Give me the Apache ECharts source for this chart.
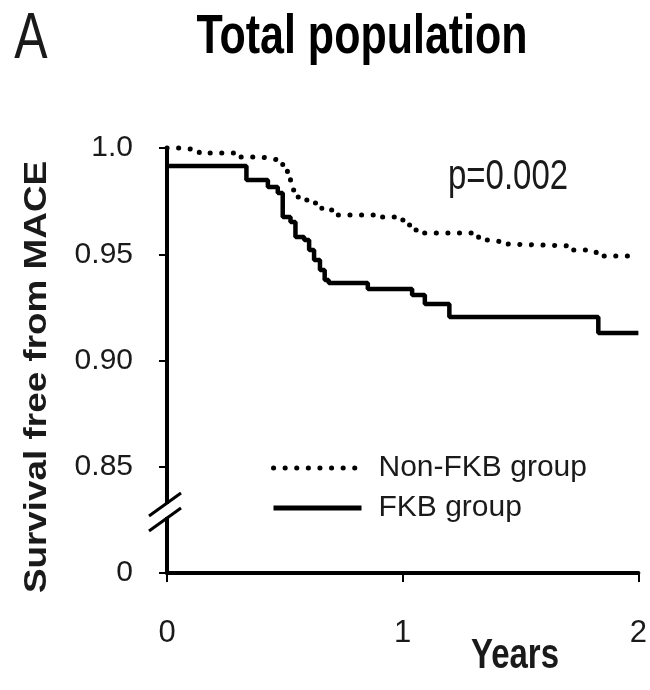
<!DOCTYPE html>
<html>
<head>
<meta charset="utf-8">
<script src="https://cdn.jsdelivr.net/npm/echarts@6/dist/echarts.min.js"></script>
<style>
  html, body { margin: 0; padding: 0; background: #fff; }
  #chart { width: 650px; height: 690px; }
</style>
</head>
<body>
<div id="chart"></div>
<script>
// Kaplan-Meier curves (years, survival)
const nonFkbTime = [0, 0.054, 0.137, 0.304, 0.387, 0.428, 0.470, 0.491, 0.511, 0.524, 0.532, 0.545, 0.574, 0.615, 0.657, 0.699, 0.886, 0.969, 1.010, 1.052, 1.073, 1.322, 1.364, 1.426, 1.447, 1.717, 1.800, 1.821, 2.0];
const nonFkbSurv = [1.0, 0.9991, 0.9976, 0.9958, 0.9953, 0.9944, 0.9929, 0.9911, 0.9882, 0.9849, 0.9802, 0.9769, 0.9755, 0.9741, 0.9708, 0.9685, 0.9675, 0.9661, 0.9638, 0.9614, 0.960, 0.9567, 0.9558, 0.9548, 0.9539, 0.952, 0.9511, 0.9492, 0.9492];

const fkbTime = [0, 0.337, 0.428, 0.470, 0.491, 0.524, 0.545, 0.582, 0.603, 0.624, 0.649, 0.669, 0.686, 0.852, 1.040, 1.094, 1.198, 1.830, 2.0];
const fkbSurv = [0.9915, 0.985, 0.9816, 0.9788, 0.9675, 0.9652, 0.9581, 0.9567, 0.952, 0.9473, 0.9426, 0.9379, 0.9365, 0.9336, 0.9308, 0.9266, 0.9205, 0.9129, 0.9129];

const groupNames = ['Non-FKB group', 'FKB group'];
const xTicks = [0, 1, 2];
const yTickLabels = { '0.80': '0', '0.85': '0.85', '0.90': '0.90', '0.95': '0.95', '1.00': '1.0' };
const breakAt = 0.8294; // where the axis is broken (0.85 -> 0)

const FONT = 'Liberation Sans, Arial, Helvetica, sans-serif';
const INK = '#1a1a1a';

const dotted = { color: '#000', width: 5, type: [0.1, 11.5], cap: 'round' };
const solid = { color: '#000', width: 4.5, type: 'solid' };

function pairs(t, s) {
  return t.map((v, i) => [v, s[i]]);
}

const chart = echarts.init(document.getElementById('chart'));

const option = {
  animation: false,
  backgroundColor: '#fff',
  grid: { left: 167, right: 2, top: 148, bottom: 117, containLabel: false },
  legend: {
    data: [
      { name: groupNames[0], lineStyle: dotted },
      { name: groupNames[1], lineStyle: Object.assign({}, solid, { width: 5 }) }
    ],
    orient: 'vertical',
    left: 266,
    top: 448,
    itemWidth: 88,
    itemHeight: 30,
    itemGap: 10,
    itemStyle: { opacity: 0 },
    textStyle: { fontFamily: FONT, fontSize: 30, color: INK, lineHeight: 30, padding: [0, 0, 0, 12] }
  },
  xAxis: {
    type: 'value',
    min: 0,
    max: 2,
    interval: 1,
    splitLine: { show: false },
    axisLine: { lineStyle: { color: '#000', width: 4 } },
    axisTick: { length: 9, lineStyle: { color: '#000', width: 2 } },
    axisLabel: {
      margin: 45,
      fontFamily: FONT, fontSize: 31, color: INK,
      formatter: v => xTicks.includes(Math.round(v)) ? String(Math.round(v)) : ''
    }
  },
  yAxis: {
    type: 'value',
    min: 0.8,
    max: 1.0,
    interval: 0.05,
    splitLine: { show: false },
    axisLine: { lineStyle: { color: '#000', width: 4 } },
    axisTick: { length: 8, lineStyle: { color: '#000', width: 2 } },
    axisLabel: {
      margin: 34,
      fontFamily: FONT, fontSize: 30, color: INK,
      formatter: v => yTickLabels[v.toFixed(2)] || ''
    }
  },
  series: [
    {
      name: groupNames[0],
      type: 'line',
      step: 'end',
      symbol: 'none',
      clip: false,
      lineStyle: dotted,
      itemStyle: { color: '#000' },
      data: pairs(nonFkbTime, nonFkbSurv),
      z: 3
    },
    {
      name: groupNames[1],
      type: 'line',
      step: 'end',
      symbol: 'none',
      clip: false,
      lineStyle: solid,
      itemStyle: { color: '#000' },
      data: pairs(fkbTime, fkbSurv),
      z: 2
    }
  ]
};

chart.setOption(option);

// texts and the axis break marks
const ax = chart.convertToPixel({ gridIndex: 0 }, [0, breakAt]);
const bx = ax[0], by = ax[1];

chart.setOption({
  graphic: [
    {
      type: 'text', x: 31, y: 40, scaleY: 1.28, z: 100,
      style: { text: 'A', fontFamily: FONT, fontSize: 50, fill: INK, align: 'center', verticalAlign: 'middle' }
    },
    {
      type: 'text', x: 362, y: 38, scaleY: 1.28, z: 100,
      style: { text: 'Total population', fontFamily: FONT, fontWeight: 'bold', fontSize: 43, fill: '#000', align: 'center', verticalAlign: 'middle' }
    },
    {
      type: 'text', x: 508, y: 177, scaleY: 1.28, z: 100,
      style: { text: 'p=0.002', fontFamily: FONT, fontSize: 33, fill: INK, align: 'center', verticalAlign: 'middle' }
    },
    {
      type: 'text', x: 515, y: 656, scaleY: 1.28, z: 100,
      style: { text: 'Years', fontFamily: FONT, fontWeight: 'bold', fontSize: 33, fill: INK, align: 'center', verticalAlign: 'middle' }
    },
    {
      type: 'text', x: 37, y: 377, rotation: Math.PI / 2, scaleX: 1.17, z: 100,
      style: { text: 'Survival free from MACE', fontFamily: FONT, fontWeight: 'bold', fontSize: 31.5, fill: INK, align: 'center', verticalAlign: 'middle' }
    },
    {
      type: 'rect', z: 100,
      shape: { x: bx - 7, y: by - 6.5, width: 14, height: 13 },
      style: { fill: '#fff' }
    },
    {
      type: 'line', z: 101,
      shape: { x1: bx - 18, y1: by + 5.5, x2: bx + 14, y2: by - 17.5 },
      style: { stroke: '#000', lineWidth: 3 }
    },
    {
      type: 'line', z: 101,
      shape: { x1: bx - 18, y1: by + 20.5, x2: bx + 14, y2: by - 2.5 },
      style: { stroke: '#000', lineWidth: 3 }
    }
  ]
});
</script>
</body>
</html>
